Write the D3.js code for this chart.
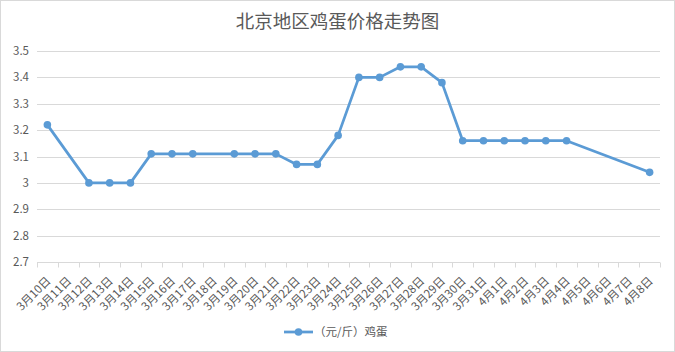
<!DOCTYPE html>
<html>
<head>
<meta charset="utf-8">
<script src="https://cdn.jsdelivr.net/npm/d3@7"></script>
<style>
  body { margin: 0; background: #fff; }
  text { font-family: "Noto Sans CJK SC", "Noto Sans", sans-serif; fill: #595959; }
</style>
</head>
<body>
<div id="chart"></div>
<script>
var dates = ["3月10日", "3月11日", "3月12日", "3月13日", "3月14日", "3月15日", "3月16日", "3月17日",
    "3月18日", "3月19日", "3月20日", "3月21日", "3月22日", "3月23日", "3月24日", "3月25日",
    "3月26日", "3月27日", "3月28日", "3月29日", "3月30日", "3月31日", "4月1日", "4月2日",
    "4月3日", "4月4日", "4月5日", "4月6日", "4月7日", "4月8日"];
var prices = [3.22, null, 3.00, 3.00, 3.00, 3.11, 3.11, 3.11,
    null, 3.11, 3.11, 3.11, 3.07, 3.07, 3.18, 3.40,
    3.40, 3.44, 3.44, 3.38, 3.16, 3.16, 3.16, 3.16,
    3.16, 3.16, null, null, null, 3.04];
var yTicks = [2.7, 2.8, 2.9, 3, 3.1, 3.2, 3.3, 3.4, 3.5];
var chartTitle = "北京地区鸡蛋价格走势图";
var seriesName = "（元/斤）鸡蛋";

var W = 675, H = 352;
var margin = { top: 51, right: 15, bottom: 90, left: 37 },
    width = W - margin.left - margin.right,
    height = H - margin.top - margin.bottom;

var svg = d3.select("#chart").append("svg")
    .attr("width", W)
    .attr("height", H);

svg.append("rect")
    .attr("x", 0.5).attr("y", 0.5)
    .attr("width", W - 1).attr("height", H - 1)
    .attr("fill", "#fff")
    .attr("stroke", "#d9d9d9");

svg.append("text")
    .attr("x", W / 2)
    .attr("y", 28)
    .attr("text-anchor", "middle")
    .style("font-size", "18.5px")
    .text(chartTitle);

var g = svg.append("g")
    .attr("transform", "translate(" + margin.left + "," + margin.top + ")");

var x = d3.scaleBand().domain(dates).range([0, width]).padding(0);
var y = d3.scaleLinear().domain([2.7, 3.5]).range([height, 0]);

// grid
g.selectAll(".grid")
    .data(yTicks.slice(1))
    .enter().append("line")
    .attr("class", "grid")
    .attr("x1", 0).attr("x2", width)
    .attr("y1", function (d) { return Math.round(y(d)) + 0.5; })
    .attr("y2", function (d) { return Math.round(y(d)) + 0.5; })
    .attr("stroke", "#d9d9d9");

// y labels
g.selectAll(".ylab")
    .data(yTicks)
    .enter().append("text")
    .attr("class", "ylab")
    .attr("x", -8)
    .attr("y", function (d) { return y(d); })
    .attr("dy", "0.35em")
    .attr("text-anchor", "end")
    .style("font-size", "11.5px")
    .text(function (d) { return d3.format("")(d); });

// x axis line + ticks
var xAxisG = g.append("g").attr("transform", "translate(0," + (Math.round(height) + 0.5) + ")");
xAxisG.append("line")
    .attr("x1", 0).attr("x2", width)
    .attr("stroke", "#d9d9d9");
var tickPos = dates.map(function (d) { return x(d); }).concat([width]);
xAxisG.selectAll(".xtick")
    .data(tickPos)
    .enter().append("line")
    .attr("x1", function (d) { return Math.round(d) + 0.5; })
    .attr("x2", function (d) { return Math.round(d) + 0.5; })
    .attr("y1", 0).attr("y2", 5)
    .attr("stroke", "#d9d9d9");

xAxisG.selectAll(".xlab")
    .data(dates)
    .enter().append("text")
    .attr("text-anchor", "end")
    .style("font-size", "11.5px")
    .attr("transform", function (d) {
        return "translate(" + (x(d) + x.bandwidth() / 2 + 4) + ",19) rotate(-45)";
    })
    .text(function (d) { return d; });

// line
var pts = dates.map(function (d, i) { return { date: d, value: prices[i] }; })
    .filter(function (p) { return p.value !== null; });

var line = d3.line()
    .x(function (d) { return x(d.date) + x.bandwidth() / 2; })
    .y(function (d) { return y(d.value); });

g.append("path")
    .datum(pts)
    .attr("d", line)
    .attr("fill", "none")
    .attr("stroke", "#5b9bd5")
    .attr("stroke-width", 2.75)
    .attr("stroke-linejoin", "round");

g.selectAll(".dot")
    .data(pts)
    .enter().append("circle")
    .attr("cx", function (d) { return x(d.date) + x.bandwidth() / 2; })
    .attr("cy", function (d) { return y(d.value); })
    .attr("r", 3.8)
    .attr("fill", "#5b9bd5");

// legend
var leg = svg.append("g").attr("transform", "translate(284,332)");
leg.append("line")
    .attr("x1", 0).attr("x2", 29)
    .attr("stroke", "#5b9bd5").attr("stroke-width", 2.75);
leg.append("circle")
    .attr("cx", 14.5).attr("r", 3.8).attr("fill", "#5b9bd5");
leg.append("text")
    .attr("x", 30)
    .attr("dy", "0.35em")
    .style("font-size", "11.5px")
    .text(seriesName);
</script>
</body>
</html>
